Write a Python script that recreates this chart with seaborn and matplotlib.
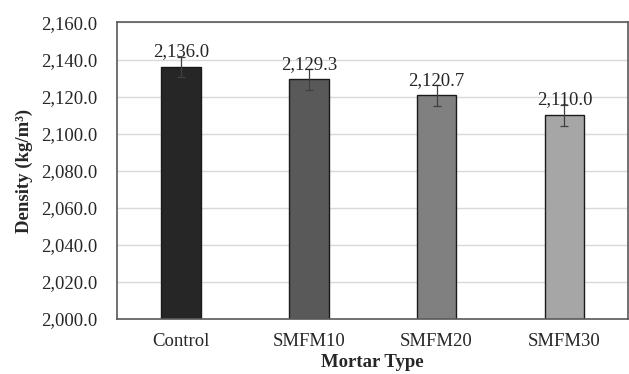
import pandas as pd
import seaborn as sns
import matplotlib.pyplot as plt

# Data
mortar_types = ["Control", "SMFM10", "SMFM20", "SMFM30"]
density = [2136.0, 2129.3, 2120.7, 2110.0]
density_err = [5.6, 5.5, 5.7, 5.7]
bar_colors = ["#262626", "#595959", "#808080", "#a6a6a6"]

df = pd.DataFrame({"type": mortar_types, "density": density, "err": density_err})

sns.set_style("white")
plt.rcParams["font.family"] = ["Liberation Serif", "DejaVu Serif"]

fig, ax = plt.subplots(figsize=(6.29, 3.74), dpi=100)
fig.subplots_adjust(left=0.186, right=0.999, top=0.94, bottom=0.147)

sns.barplot(data=df, x="type", y="density", hue="type", palette=bar_colors,
            width=0.31, edgecolor="#1a1a1a", linewidth=1.0, legend=False, ax=ax, zorder=2)

ax.errorbar(range(len(df)), df["density"], yerr=df["err"], fmt="none",
            ecolor="#404040", elinewidth=0.9, capsize=3, capthick=0.9, zorder=3)

for i, v in enumerate(df["density"]):
    ax.text(i, v + 3.6, f"{v:,.1f}", ha="center", va="bottom", fontsize=13.5, zorder=4)

ax.set_xlim(-0.5, len(df) - 0.5)
ax.set_ylim(2000, 2160)
ax.set_yticks(range(2000, 2161, 20))
ax.set_yticklabels([f"{t:,.1f}" for t in range(2000, 2161, 20)])
ax.yaxis.grid(True, color="#d9d9d9", linewidth=1.0, zorder=0)
ax.set_axisbelow(True)
ax.tick_params(axis="both", length=0, labelsize=13.5)
ax.tick_params(axis="y", pad=14)
ax.tick_params(axis="x", pad=10)

for s in ax.spines.values():
    s.set_visible(True)
    s.set_color("#595959")
    s.set_linewidth(1.2)

ax.set_xlabel("Mortar Type", fontsize=13.5, fontweight="bold", labelpad=3)
ax.set_ylabel("Density (kg/m³)", fontsize=13.5, fontweight="bold", labelpad=6)

plt.savefig("out.png", dpi=100)
